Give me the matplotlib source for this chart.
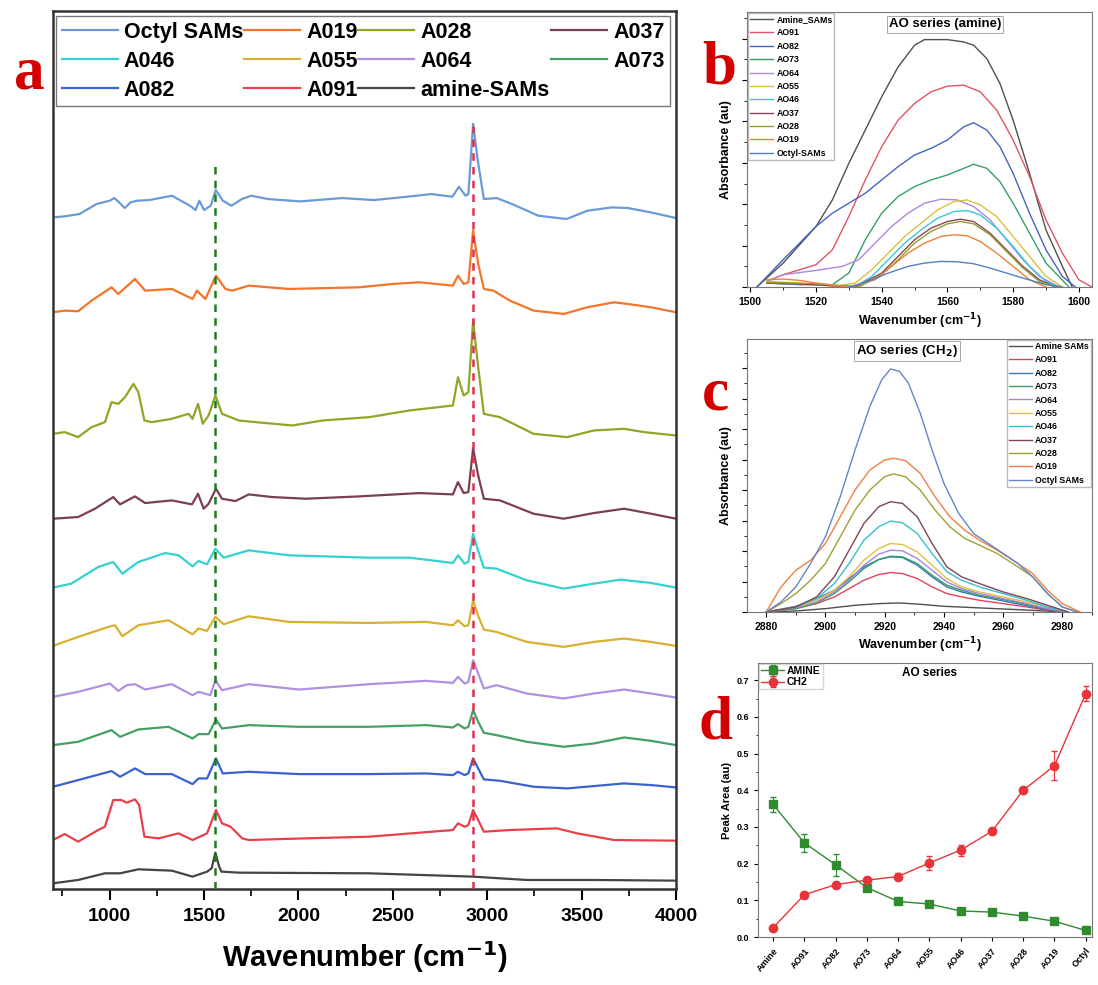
import numpy as np
import matplotlib
matplotlib.use("Agg")
import matplotlib.pyplot as plt
from matplotlib.ticker import MultipleLocator

plt.rcParams['font.family'] = ['Liberation Sans', 'DejaVu Sans']
plt.rcParams['font.weight'] = 'bold'
plt.rcParams['axes.labelweight'] = 'bold'
plt.rcParams['mathtext.default'] = 'bf'

# ---------------- panel a : stacked FTIR spectra (arbitrary units) ----------------
octyl_wn = [700, 760, 840, 930, 1000, 1025, 1050, 1080, 1110, 1145, 1210, 1330, 1425, 1455, 1475, 1500, 1535, 1562, 1600, 1645,
            1700, 1750, 1840, 2010, 2230, 2400, 2575, 2705, 2815, 2850, 2885, 2900, 2925, 2950, 2982, 3050, 3140, 3270, 3420, 3530,
            3660, 3745, 3875, 4000]
octyl_abs = [0, 3, 10, 40, 50, 58, 45, 28, 45, 50, 52, 65, 35, 22, 50, 22, 35, 82, 50, 35,
             55, 65, 55, 48, 58, 52, 62, 70, 62, 92, 65, 70, 281, 170, 55, 58, 38, 5, -5, 20,
             30, 28, 14, -2]

a019_wn = [700, 762, 833, 904, 1010, 1046, 1134, 1188, 1329, 1439, 1462, 1507, 1563, 1613, 1649, 1737, 1950, 2321, 2499, 2641,
           2818, 2845, 2875, 2900, 2925, 2952, 2982, 3032, 3120, 3245, 3405, 3530, 3672, 3743, 3867, 4000]
a019_abs = [0, 5, 3, 35, 75, 55, 100, 65, 70, 40, 65, 40, 110, 70, 65, 80, 70, 75, 85, 90,
            80, 110, 85, 90, 245, 145, 70, 65, 35, 5, -5, 15, 30, 25, 15, 0]

a028_wn = [700, 762, 833, 904, 975, 1010, 1046, 1081, 1126, 1152, 1184, 1223, 1329, 1418, 1439, 1468, 1493, 1524, 1560, 1595,
           1684, 1773, 1968, 2127, 2375, 2587, 2818, 2845, 2875, 2900, 2925, 2952, 2982, 3067, 3245, 3423, 3565, 3725, 3831, 4000]
a028_abs = [0, 5, -10, 20, 35, 95, 90, 110, 150, 125, 40, 35, 45, 60, 45, 90, 30, 55, 115, 60,
            40, 35, 25, 40, 50, 70, 85, 170, 115, 125, 340, 200, 60, 50, 0, -10, 10, 15, 5, -5]

a037_wn = [700, 833, 922, 1019, 1055, 1134, 1188, 1329, 1436, 1468, 1498, 1524, 1563, 1595, 1666, 1737, 1861, 2039, 2321, 2641,
           2818, 2845, 2875, 2900, 2925, 2952, 2982, 3067, 3245, 3405, 3565, 3725, 3867, 4000]
a037_abs = [0, 5, 30, 65, 43, 67, 47, 55, 43, 75, 30, 45, 90, 60, 53, 73, 65, 60, 67, 77,
            73, 110, 77, 80, 211, 130, 60, 55, 15, 0, 17, 30, 15, 0]

a046_wn = [700, 797, 939, 1019, 1067, 1152, 1294, 1365, 1439, 1471, 1516, 1560, 1604, 1737, 1950, 2375, 2587, 2818, 2845, 2880,
           2900, 2925, 2952, 2982, 3049, 3209, 3405, 3565, 3707, 3867, 4000]
a046_abs = [0, 12, 62, 77, 42, 77, 104, 97, 64, 80, 70, 117, 90, 112, 97, 90, 90, 74, 97, 72,
            78, 162, 110, 60, 57, 22, -3, 12, 24, 14, 0]

a055_wn = [700, 833, 993, 1028, 1067, 1152, 1312, 1439, 1471, 1516, 1560, 1604, 1737, 1950, 2375, 2676, 2818, 2845, 2880, 2900,
           2925, 2952, 2982, 3049, 3209, 3405, 3565, 3725, 3867, 4000]
a055_abs = [0, 27, 57, 62, 29, 62, 77, 35, 52, 45, 87, 65, 89, 72, 69, 72, 62, 77, 59, 62,
            137, 90, 49, 42, 12, -3, 12, 22, 12, 0]

a064_wn = [700, 833, 1001, 1046, 1090, 1134, 1188, 1329, 1439, 1471, 1533, 1560, 1595, 1737, 2003, 2375, 2676, 2818, 2845, 2880,
           2900, 2925, 2952, 2982, 3049, 3209, 3405, 3565, 3725, 3867, 4000]
a064_abs = [0, 15, 40, 18, 35, 38, 22, 38, 5, 15, 5, 50, 20, 38, 22, 38, 48, 42, 60, 40,
            45, 110, 70, 25, 35, 10, -5, 10, 22, 10, -2]

a073_wn = [700, 833, 1010, 1055, 1152, 1312, 1439, 1471, 1524, 1563, 1595, 1737, 2003, 2375, 2676, 2818, 2845, 2880, 2900, 2925,
           2952, 2982, 3049, 3209, 3405, 3565, 3725, 3867, 4000]
a073_abs = [0, 10, 45, 25, 47, 55, 20, 33, 33, 77, 50, 60, 55, 55, 60, 53, 63, 50, 55, 105,
            70, 37, 30, 10, -5, 5, 23, 13, 0]

a082_wn = [700, 833, 1010, 1055, 1134, 1188, 1329, 1439, 1471, 1516, 1563, 1599, 1737, 2003, 2375, 2676, 2818, 2845, 2880, 2900,
           2925, 2952, 2982, 3067, 3245, 3423, 3565, 3725, 3867, 4000]
a082_abs = [0, 20, 47, 30, 55, 38, 38, 8, 25, 25, 85, 40, 45, 38, 38, 40, 35, 45, 35, 40,
            85, 55, 22, 18, 0, -5, 2, 10, 5, -2]

a091_wn = [700, 762, 833, 939, 975, 1019, 1063, 1090, 1134, 1156, 1184, 1259, 1365, 1439, 1516, 1563, 1595, 1640, 1702, 1737,
           2039, 2375, 2818, 2845, 2880, 2900, 2925, 2952, 2982, 3120, 3369, 3476, 3672, 4000]
a091_abs = [0, 18, -5, 30, 40, 120, 120, 112, 122, 105, 10, 5, 20, 0, 20, 90, 50, 40, 5, 0,
            5, 10, 30, 50, 40, 45, 90, 60, 25, 30, 35, 20, 0, -2]

amine_wn = [700, 833, 975, 1055, 1152, 1329, 1439, 1516, 1540, 1560, 1580, 1592, 1684, 2375, 2925, 3209, 3565, 4000]
amine_abs = [0, 10, 30, 30, 42, 38, 20, 35, 45, 92, 50, 35, 32, 30, 20, 10, 10, 8]

a_labels = ['Octyl SAMs', 'A019', 'A028', 'A037', 'A046', 'A055', 'A064', 'A073', 'A082', 'A091', 'amine-SAMs']
a_offsets = [2017, 1732, 1367, 1112, 905, 730, 577, 432, 307, 147, 17]
a_colors = ['#6a9bd6', '#f4742a', '#8fa626', '#7b3f4f', '#35d0d0', '#d9b030', '#b28fe0', '#45a066', '#3a62d0', '#e8404a', '#444444']

band_nh = 1560     # amine band marker
band_ch2 = 2925    # CH2 band marker
band_nh_top = 2172
band_ch2_top = 2290

# ---------------- panel b : amine band ----------------
b_labels = ['Amine_SAMs', 'AO91', 'AO82', 'AO73', 'AO64', 'AO55', 'AO46', 'AO37', 'AO28', 'AO19', 'Octyl-SAMs']
b_colors = ['#505050', '#e05565', '#4565c0', '#35a065', '#b085e0', '#d8c040', '#35c8d8', '#8a4555', '#8f9f30', '#f08035', '#5580c0']
b_wn = [
    [1502, 1510, 1520, 1525, 1530, 1535, 1540, 1545, 1550, 1553, 1560, 1565, 1568, 1572, 1576, 1580, 1585, 1590, 1595, 1598],
    [1505, 1510, 1515, 1520, 1525, 1530, 1535, 1540, 1545, 1550, 1555, 1560, 1565, 1570, 1575, 1580, 1585, 1590, 1595, 1600, 1604],
    [1502, 1510, 1520, 1525, 1530, 1535, 1540, 1545, 1550, 1555, 1560, 1565, 1568, 1572, 1576, 1580, 1585, 1590, 1595, 1599],
    [1505, 1515, 1525, 1530, 1535, 1540, 1545, 1550, 1555, 1560, 1565, 1568, 1572, 1576, 1580, 1585, 1590, 1597],
    [1505, 1510, 1520, 1528, 1533, 1538, 1543, 1548, 1553, 1558, 1563, 1568, 1573, 1578, 1583, 1588, 1594],
    [1505, 1515, 1525, 1532, 1537, 1542, 1547, 1552, 1557, 1562, 1566, 1570, 1575, 1580, 1585, 1590, 1595],
    [1505, 1520, 1532, 1537, 1542, 1547, 1552, 1557, 1562, 1566, 1570, 1575, 1580, 1585, 1590, 1594],
    [1505, 1520, 1532, 1540, 1545, 1550, 1555, 1560, 1564, 1568, 1573, 1578, 1583, 1588, 1593],
    [1505, 1520, 1533, 1540, 1545, 1550, 1555, 1560, 1564, 1568, 1573, 1578, 1583, 1588, 1593],
    [1505, 1510, 1515, 1520, 1530, 1538, 1543, 1548, 1553, 1558, 1562, 1566, 1570, 1575, 1580, 1585, 1590],
    [1530, 1536, 1542, 1548, 1553, 1558, 1563, 1568, 1573, 1578, 1583, 1590, 1595],
]
b_abs = [
    [0, 72, 182, 262, 372, 472, 572, 662, 727, 744, 744, 737, 727, 687, 612, 502, 342, 172, 62, 0],
    [17, 37, 52, 67, 112, 212, 322, 422, 502, 552, 587, 604, 607, 587, 532, 442, 332, 202, 102, 22, 0],
    [0, 82, 182, 222, 252, 282, 322, 362, 397, 417, 442, 482, 494, 472, 422, 342, 222, 112, 32, 0],
    [12, 7, 7, 42, 142, 222, 272, 302, 322, 337, 357, 369, 357, 317, 252, 162, 72, 0],
    [17, 37, 50, 62, 82, 132, 182, 222, 252, 264, 262, 242, 202, 142, 82, 32, 0],
    [17, 12, 2, 12, 52, 102, 152, 192, 232, 257, 262, 247, 212, 152, 92, 32, 0],
    [12, 7, 2, 32, 82, 132, 172, 207, 227, 230, 217, 177, 122, 62, 17, 0],
    [12, 7, 0, 42, 92, 142, 177, 197, 204, 197, 162, 112, 62, 22, 0],
    [14, 10, 0, 37, 82, 132, 167, 190, 197, 190, 157, 107, 57, 17, 0],
    [22, 24, 20, 12, 0, 22, 62, 102, 132, 152, 157, 154, 137, 102, 62, 22, 0],
    [0, 17, 42, 62, 72, 77, 76, 70, 57, 42, 27, 7, 0],
]

# ---------------- panel c : CH2 band ----------------
c_labels = ['Amine SAMs', 'AO91', 'AO82', 'AO73', 'AO64', 'AO55', 'AO46', 'AO37', 'AO28', 'AO19', 'Octyl SAMs']
c_colors = ['#505050', '#e04555', '#3575c0', '#35a065', '#a585e0', '#e0c040', '#35c0d0', '#804555', '#a0a035', '#f08045', '#6585c8']
c_wn_peak = [2880, 2890, 2897, 2903, 2908, 2913, 2918, 2922, 2926, 2931, 2936, 2941, 2946, 2952, 2960, 2968, 2975, 2982]
c_wn_amine = [2880, 2890, 2900, 2910, 2918, 2925, 2932, 2940, 2950, 2960, 2970, 2980]
c_wn_o19 = [2880, 2885, 2890, 2895, 2900, 2905, 2910, 2915, 2920, 2923, 2927, 2932, 2937, 2942, 2947, 2952, 2958, 2965, 2970,
            2975, 2980, 2986]
c_wn_o28 = [2880, 2885, 2890, 2895, 2900, 2905, 2910, 2915, 2920, 2923, 2927, 2932, 2937, 2942, 2947, 2952, 2958, 2965, 2970,
            2975, 2980, 2985]
c_wn_octyl = [2880, 2885, 2890, 2895, 2900, 2905, 2910, 2915, 2919, 2922, 2925, 2928, 2932, 2936, 2940, 2945, 2950, 2955, 2960,
              2965, 2970, 2975, 2980, 2985]
c_amine = [0, 3, 10, 20, 25, 27, 23, 17, 13, 9, 5, 0]
c_ao91 = [0, 10, 25, 45, 70, 95, 112, 118, 115, 100, 75, 55, 45, 35, 25, 15, 5, 0]
c_ao82 = [0, 17, 40, 65, 100, 135, 157, 165, 163, 140, 105, 75, 60, 47, 33, 19, 7, 0]
c_ao73 = [0, 10, 27, 55, 90, 130, 157, 167, 165, 145, 110, 80, 65, 50, 37, 23, 10, 0]
c_ao64 = [0, 13, 30, 60, 95, 140, 173, 185, 183, 160, 125, 90, 70, 55, 40, 25, 10, 0]
c_ao55 = [0, 15, 35, 65, 105, 155, 190, 205, 202, 180, 140, 100, 75, 60, 45, 30, 15, 0]
c_ao46 = [0, 15, 40, 85, 145, 215, 255, 272, 267, 235, 175, 120, 95, 75, 55, 35, 15, 0]
c_ao37 = [0, 15, 45, 105, 185, 265, 315, 330, 325, 285, 205, 135, 105, 85, 60, 40, 20, 0]
c_ao28 = [0, 25, 55, 95, 145, 225, 305, 365, 405, 413, 405, 365, 305, 255, 220, 200, 175, 135, 105, 55, 15, 0]
c_ao19 = [0, 75, 125, 155, 205, 285, 365, 425, 455, 460, 453, 415, 345, 285, 245, 215, 185, 145, 115, 65, 25, 0]
c_octyl = [0, 30, 75, 145, 225, 345, 485, 615, 695, 727, 720, 685, 595, 485, 385, 295, 235, 205, 175, 145, 105, 55, 15, 0]

# ---------------- panel d : peak areas ----------------
d_samples = ['Amine', 'AO91', 'AO82', 'AO73', 'AO64', 'AO55', 'AO46', 'AO37', 'AO28', 'AO19', 'Octyl']
amine_area = [0.362, 0.257, 0.197, 0.135, 0.097, 0.090, 0.071, 0.068, 0.057, 0.043, 0.018]
amine_err = [0.020, 0.025, 0.030, 0.010, 0.008, 0.008, 0.005, 0.005, 0.005, 0.005, 0.008]
ch2_area = [0.025, 0.115, 0.143, 0.155, 0.165, 0.202, 0.237, 0.288, 0.400, 0.467, 0.663]
ch2_err = [0.005, 0.008, 0.008, 0.010, 0.010, 0.020, 0.015, 0.008, 0.008, 0.040, 0.020]

fig = plt.figure(figsize=(10.98, 9.85), dpi=100)

# ===== panel a =====
ax = fig.add_axes([0.0483, 0.0975, 0.5674, 0.8914])
a_wn = [octyl_wn, a019_wn, a028_wn, a037_wn, a046_wn, a055_wn, a064_wn, a073_wn, a082_wn, a091_wn, amine_wn]
a_abs = [octyl_abs, a019_abs, a028_abs, a037_abs, a046_abs, a055_abs, a064_abs, a073_abs, a082_abs, a091_abs, amine_abs]
lines = []
for wn, ab, off, col, lab in zip(a_wn, a_abs, a_offsets, a_colors, a_labels):
    l, = ax.plot(wn, np.array(ab) + off, color=col, lw=1.6, label=lab)
    lines.append(l)
ax.plot([band_nh, band_nh], [0, band_nh_top], ls=(0, (3, 2.5)), color='#1f7a1f', lw=1.8, zorder=5)
ax.plot([band_ch2, band_ch2], [0, band_ch2_top], ls=(0, (3, 2.5)), color='#e0304a', lw=1.8, zorder=5)
ax.set_xlim(700, 4000)
ax.set_ylim(0, 2637)
ax.set_yticks([])
ax.xaxis.set_major_locator(MultipleLocator(500))
ax.xaxis.set_minor_locator(MultipleLocator(250))
ax.tick_params(axis='x', which='major', direction='out', length=8, width=1.5, labelsize=14, pad=6)
ax.tick_params(axis='x', which='minor', direction='out', length=5, width=1.2)
for s in ax.spines.values():
    s.set_linewidth(1.8)
    s.set_color('#333333')
ax.set_xlabel('Wavenumber (cm$^{-1}$)', fontsize=21, labelpad=10)
order = [0, 4, 8, 1, 5, 9, 2, 6, 10, 3, 7]
leg = ax.legend([lines[i] for i in order], [a_labels[i] for i in order], ncol=4, loc='upper left',
                bbox_to_anchor=(0.005, 0.994, 0.985, 0), mode='expand', fontsize=15.5, handlelength=2.6,
                handletextpad=0.3, columnspacing=0.2, labelspacing=0.38, borderpad=0.25,
                frameon=True, fancybox=False, edgecolor='#555555', borderaxespad=0)
leg.get_frame().set_linewidth(1.0)

# ===== panel b =====
axb = fig.add_axes([0.6803, 0.7086, 0.3142, 0.2792])
for wn, ab, col, lab in zip(b_wn, b_abs, b_colors, b_labels):
    axb.plot(wn, ab, color=col, lw=1.0, label=lab)
axb.set_xlim(1499, 1604)
axb.set_ylim(0, 827)
axb.xaxis.set_major_locator(MultipleLocator(20))
axb.xaxis.set_minor_locator(MultipleLocator(10))
axb.yaxis.set_major_locator(MultipleLocator(124.5))
axb.yaxis.set_minor_locator(MultipleLocator(62.25))
axb.set_yticklabels([])
axb.tick_params(which='major', direction='out', length=3.5, width=0.8, labelsize=7.5)
axb.tick_params(which='minor', direction='out', length=2, width=0.6)
axb.set_xlabel('Wavenumber (cm$^{-1}$)', fontsize=9, labelpad=3)
axb.set_ylabel('Absorbance (au)', fontsize=9, labelpad=4)
for s in axb.spines.values():
    s.set_color('#777777')
axb.legend(loc='upper left', fontsize=6.3, handlelength=2.6, handletextpad=0.4, labelspacing=0.5,
           borderpad=0.2, frameon=True, fancybox=False, edgecolor='#aaaaaa', borderaxespad=0.15)
axb.text(0.574, 0.955, 'AO series (amine)', transform=axb.transAxes, ha='center', va='center', fontsize=9.5,
         bbox=dict(facecolor='white', edgecolor='#999999', lw=0.6, pad=1.5))

# ===== panel c =====
axc = fig.add_axes([0.6803, 0.3787, 0.3142, 0.2772])
c_wn = [c_wn_amine, c_wn_peak, c_wn_peak, c_wn_peak, c_wn_peak, c_wn_peak, c_wn_peak, c_wn_peak, c_wn_o28, c_wn_o19, c_wn_octyl]
c_abs = [c_amine, c_ao91, c_ao82, c_ao73, c_ao64, c_ao55, c_ao46, c_ao37, c_ao28, c_ao19, c_octyl]
for wn, ab, col, lab in zip(c_wn, c_abs, c_colors, c_labels):
    axc.plot(wn, ab, color=col, lw=1.0, label=lab)
axc.set_xlim(2873.5, 2990)
axc.set_ylim(0, 817)
axc.xaxis.set_major_locator(MultipleLocator(20))
axc.xaxis.set_minor_locator(MultipleLocator(10))
axc.yaxis.set_major_locator(MultipleLocator(91.2))
axc.yaxis.set_minor_locator(MultipleLocator(45.6))
axc.set_yticklabels([])
axc.tick_params(which='major', direction='out', length=3.5, width=0.8, labelsize=7.5)
axc.tick_params(which='minor', direction='out', length=2, width=0.6)
axc.set_xlabel('Wavenumber (cm$^{-1}$)', fontsize=9, labelpad=3)
axc.set_ylabel('Absorbance (au)', fontsize=9, labelpad=4)
for s in axc.spines.values():
    s.set_color('#777777')
axc.legend(loc='upper right', fontsize=6.3, handlelength=2.6, handletextpad=0.4, labelspacing=0.5,
           borderpad=0.2, frameon=True, fancybox=False, edgecolor='#aaaaaa', borderaxespad=0.15)
axc.text(0.464, 0.955, 'AO series (CH$_2$)', transform=axc.transAxes, ha='center', va='center', fontsize=9.5,
         bbox=dict(facecolor='white', edgecolor='#999999', lw=0.6, pad=1.5))

# ===== panel d =====
axd = fig.add_axes([0.6903, 0.0487, 0.3042, 0.2782])
xi = np.arange(len(d_samples))
axd.errorbar(xi, amine_area, yerr=amine_err, color='#2e8b2e', marker='s', ms=6, lw=1.0, capsize=2,
             elinewidth=0.8, label='AMINE')
axd.errorbar(xi, ch2_area, yerr=ch2_err, color='#e8333a', marker='o', ms=6, lw=1.0, capsize=2,
             elinewidth=0.8, label='CH2')
axd.set_xlim(-0.48, 10.2)
axd.set_ylim(0, 0.747)
axd.set_xticks(xi)
axd.set_xticklabels(d_samples, rotation=50, ha='right', rotation_mode='anchor', fontsize=6.5)
axd.yaxis.set_major_locator(MultipleLocator(0.1))
axd.yaxis.set_minor_locator(MultipleLocator(0.05))
axd.tick_params(which='major', direction='out', length=3, width=0.8, labelsize=6.5)
axd.tick_params(which='minor', direction='out', length=1.8, width=0.6)
axd.set_ylabel('Peak Area (au)', fontsize=8, labelpad=3)
for s in axd.spines.values():
    s.set_color('#777777')
axd.legend(loc='upper left', fontsize=7.5, handlelength=2.2, handletextpad=0.3, labelspacing=0.1,
           borderpad=0.2, frameon=True, fancybox=False, edgecolor='#cccccc', borderaxespad=0.1)
axd.text(0.515, 0.962, 'AO series', transform=axd.transAxes, ha='center', va='center', fontsize=8.5)

# panel letters
for lx, ly, t in [(0.027, 0.925, 'a'), (0.655, 0.93, 'b'), (0.652, 0.60, 'c'), (0.652, 0.265, 'd')]:
    fig.text(lx, ly, t, fontsize=44, fontweight='bold', color='#d40000', family='Liberation Serif',
             ha='center', va='center')

fig.savefig('out.png', dpi=100)
